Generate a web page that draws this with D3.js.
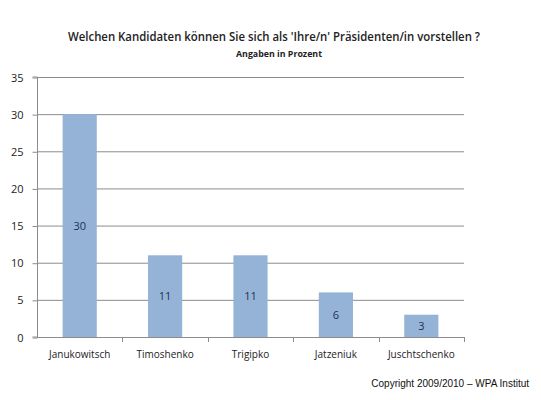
<!DOCTYPE html>
<html>
<head>
<meta charset="utf-8">
<script src="https://cdn.jsdelivr.net/npm/d3@7"></script>
<style>
  body { margin: 0; background: #fff; }
  text { font-family: "Open Sans", sans-serif; }
</style>
</head>
<body>
<div id="chart"></div>
<script>
var candidates = ["Janukowitsch", "Timoshenko", "Trigipko", "Jatzeniuk", "Juschtschenko"];
var percent = [30, 11, 11, 6, 3];
var yTicks = [0, 5, 10, 15, 20, 25, 30, 35];

function init(){
    var w = 541;
    var h = 400;
    var left = 37, right = 464, top = 77, bottom = 337;

    var svg = d3.select("#chart")
                .append("svg")
                .attr("width", w)
                .attr("height", h);

    var x = d3.scaleBand()
                .domain(candidates)
                .range([left, right]);

    var y = d3.scaleLinear()
                .domain([0, 35])
                .range([bottom, top]);

    var barW = x.bandwidth() * 0.4;

    // gridlines
    svg.selectAll("line.grid")
        .data(yTicks)
        .enter()
        .append("line")
        .attr("class", "grid")
        .attr("x1", left)
        .attr("x2", right)
        .attr("y1", function(d) { return y(d) + 0.5; })
        .attr("y2", function(d) { return y(d) + 0.5; })
        .attr("stroke", "#8c8c8c")
        .attr("stroke-width", 1);

    // bars
    svg.selectAll("rect.bar")
        .data(percent)
        .enter()
        .append("rect")
        .attr("class", "bar")
        .attr("x", function(d, i) { return x(candidates[i]) + (x.bandwidth() - barW) / 2; })
        .attr("y", function(d) { return y(d); })
        .attr("width", barW)
        .attr("height", function(d) { return bottom - y(d); })
        .attr("fill", "#95b3d7");

    // value labels in the middle of each bar
    svg.selectAll("text.val")
        .data(percent)
        .enter()
        .append("text")
        .attr("class", "val")
        .attr("x", function(d, i) { return x(candidates[i]) + x.bandwidth() / 2; })
        .attr("y", function(d) { return y(d / 2) + 4; })
        .attr("text-anchor", "middle")
        .attr("font-size", 11)
        .attr("fill", "#1a3354")
        .text(function(d) { return d; });

    // y axis
    var yAxis = d3.axisLeft(y)
                    .tickValues(yTicks)
                    .tickSize(5)
                    .tickPadding(9);

    var gy = svg.append("g")
        .attr("transform", "translate(" + (left + 0.5) + ",0.5)")
        .call(yAxis);
    gy.select(".domain").attr("stroke", "#8c8c8c").attr("d", "M-5," + (top - 0.5) + "H0V" + (bottom - 0.5) + "H-5");
    gy.selectAll(".tick line").attr("stroke", "#8c8c8c");
    gy.selectAll(".tick text")
        .attr("font-size", 11)
        .attr("fill", "#222")
        .attr("font-family", "'Open Sans', sans-serif");

    // x axis
    var xAxis = d3.axisBottom(x)
                    .tickSize(0)
                    .tickPadding(13);

    var gx = svg.append("g")
        .attr("transform", "translate(0," + (bottom + 0.5) + ")")
        .call(xAxis);
    gx.select(".domain").attr("stroke", "#8c8c8c").attr("d", "M" + left + ",0H" + right);
    gx.selectAll(".tick text")
        .attr("font-size", 10)
        .attr("fill", "#222")
        .attr("font-family", "'Open Sans', sans-serif");

    // category separator ticks
    svg.selectAll("line.sep")
        .data(candidates.slice(1).concat(["end"]))
        .enter()
        .append("line")
        .attr("class", "sep")
        .attr("x1", function(d, i) { return Math.round(i < candidates.length - 1 ? x(d) : right) + 0.5; })
        .attr("x2", function(d, i) { return Math.round(i < candidates.length - 1 ? x(d) : right) + 0.5; })
        .attr("y1", bottom)
        .attr("y2", bottom + 5)
        .attr("stroke", "#8c8c8c");

    // titles
    svg.append("text")
        .attr("x", 274)
        .attr("y", 41)
        .attr("text-anchor", "middle")
        .attr("font-size", 12)
        .attr("font-weight", 600)
        .attr("fill", "#222")
        .attr("textLength", 412)
        .attr("lengthAdjust", "spacingAndGlyphs")
        .text("Welchen Kandidaten können Sie sich als 'Ihre/n' Präsidenten/in vorstellen ?");

    svg.append("text")
        .attr("x", 279)
        .attr("y", 57)
        .attr("text-anchor", "middle")
        .attr("font-size", 9.5)
        .attr("font-weight", "bold")
        .attr("fill", "#222")
        .attr("textLength", 86)
        .attr("lengthAdjust", "spacingAndGlyphs")
        .text("Angaben in Prozent");

    svg.append("text")
        .attr("x", 529)
        .attr("y", 387)
        .attr("text-anchor", "end")
        .attr("font-size", 10)
        .style("font-family", "'Liberation Sans', Arial, sans-serif")
        .attr("fill", "#111")
        .text("Copyright 2009/2010 – WPA Institut");
}
window.onload = init;
</script>
</body>
</html>
